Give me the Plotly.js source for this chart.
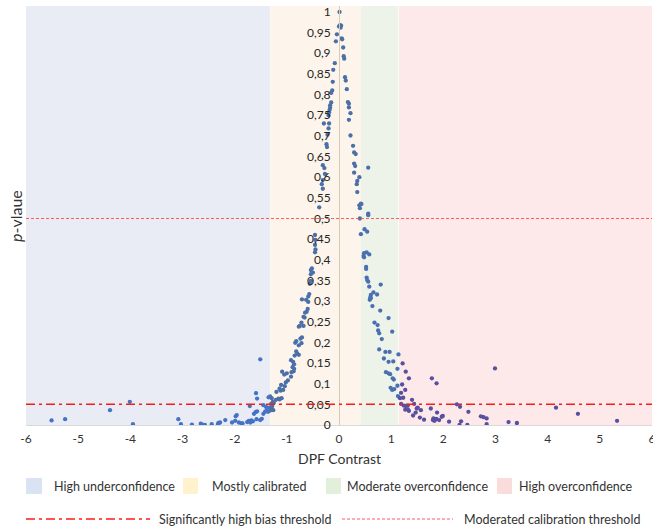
<!DOCTYPE html>
<html>
<head>
<meta charset="utf-8">
<script src="https://cdn.plot.ly/plotly-3.0.1.min.js"></script>
<style>
html,body{margin:0;padding:0;background:#fff;}
#chart{width:653px;height:527px;}
</style>
</head>
<body>
<div id="chart"></div>
<script>
// ---- data ----
const dpfContrast = [
 0.01,0.02,0.04,0.0,0.03,-0.04,0.05,0.06,-0.06,0.08,0.09,0.10,-0.08,-0.11,0.115,0.13,-0.12,0.15,-0.13,-0.15,
 0.17,0.19,0.19,-0.15,-0.17,-0.17,-0.18,-0.19,0.22,-0.2,0.19,-0.29,-0.19,-0.2,-0.22,-0.24,-0.23,0.22,0.27,0.29,
 0.32,0.29,0.31,0.56,-0.31,-0.28,0.29,0.39,0.35,0.34,-0.27,-0.31,-0.33,-0.31,0.35,-0.38,0.42,0.39,0.40,0.43,
 0.56,0.40,0.56,0.42,0.49,0.54,-0.46,-0.45,-0.46,-0.45,-0.46,0.48,0.53,0.58,0.47,0.48,0.52,0.52,-0.52,-0.54,
 -0.5,-0.54,0.53,0.54,0.56,-0.54,-0.56,0.8,0.58,0.66,0.73,0.61,0.61,0.59,0.6,0.64,-0.57,-0.59,-0.71,-0.63,
 -0.59,-0.6,-0.62,-0.65,0.79,0.95,-0.68,-0.66,-0.72,-0.75,-0.77,-0.68,
 -0.71,-0.74,-0.72,-0.82,-0.84,-0.77,-0.82,-0.8,-0.85,-0.77,-0.92,-0.88,-0.86,-0.89,-0.86,-0.91,-0.87,-1.09,-1.0,-1.05,
 -0.92,-0.98,-1.02,-1.11,-1.04,-1.07,-1.12,-1.14,-1.2,-1.1,-1.16,-1.14,-1.32,-1.29,
 -1.27,-1.25,-1.3,-1.28,-1.34,-1.26,-1.29,-1.32,-1.36,
 -1.51,-1.48,-1.45,-1.42,-1.39,-1.4,-1.45,-1.21,-1.35,
 -1.51,-3.08,-3.03,-2.82,-2.65,-2.62,-2.57,-2.44,-2.31,-2.28,-2.32,-2.18,-2.05,-1.98,-1.96,-1.99,-1.92,-1.87,-1.85,-1.76,
 -1.73,-1.68,-1.65,-1.7,-1.71,-1.59,-1.57,-1.63,-1.6,-1.57,-1.58,
 -5.51,-5.25,-4.39,-4.01,-3.95,
 0.68,0.74,1.02,0.75,0.77,0.82,0.77,0.89,0.97,0.86,0.95,1.04,1.14,0.9,0.95,0.98,1.03,1.05,1.12,1.22,
 0.99,1.02,1.06,1.12,1.28,1.34,1.21,1.27,1.19,1.13,1.17,1.23,
 1.19,1.24,1.28,1.32,1.44,1.4,1.32,1.34,1.27,1.42,1.49,1.57,1.51,1.55,1.63,1.47,
 1.78,1.87,1.81,1.87,1.97,2.11,1.76,1.8,1.83,1.86,1.92,1.99,1.88,
 2.26,2.32,2.34,2.31,2.48,2.46,2.72,2.77,2.83,2.83,2.99,3.25,3.41,4.16,4.58,5.33
];
const pValue = [
 1.0,0.968,0.967,0.965,0.962,0.946,0.936,0.934,0.929,0.914,0.893,0.887,0.876,0.86,0.842,0.834,0.831,0.813,0.81,0.804,
 0.782,0.778,0.769,0.781,0.774,0.768,0.763,0.757,0.755,0.75,0.739,0.73,0.73,0.718,0.703,0.68,0.673,0.701,0.676,0.66,
 0.656,0.633,0.627,0.623,0.629,0.622,0.611,0.6,0.591,0.583,0.608,0.593,0.583,0.572,0.564,0.527,0.536,0.532,0.525,0.535,
 0.512,0.50,0.508,0.462,0.474,0.468,0.46,0.448,0.436,0.425,0.418,0.416,0.418,0.413,0.409,0.406,0.383,0.378,0.379,0.375,
 0.369,0.365,0.357,0.351,0.347,0.349,0.342,0.34,0.335,0.321,0.316,0.315,0.307,0.303,0.309,0.288,0.317,0.311,0.304,0.303,
 0.298,0.281,0.274,0.272,0.277,0.259,0.262,0.26,0.248,0.24,0.238,0.24,
 0.212,0.209,0.198,0.203,0.199,0.193,0.178,0.173,0.168,0.17,0.157,0.153,0.147,0.14,0.136,0.128,0.13,0.129,0.125,0.122,
 0.117,0.108,0.103,0.097,0.094,0.085,0.083,0.088,0.08,0.065,0.064,0.062,0.069,0.065,
 0.056,0.054,0.051,0.046,0.042,0.036,0.04,0.035,0.032,
 0.012,0.015,0.027,0.032,0.036,0.044,0.048,0.061,0.067,
 0.159,0.014,0.002,0.001,0.003,0.001,0.0,0.002,0.005,0.006,0.002,0.012,0.006,0.021,0.024,0.01,0.006,0.004,0.004,0.007,
 0.01,0.011,0.009,0.006,0.046,0.077,0.064,0.027,0.031,0.033,0.014,
 0.011,0.014,0.036,0.056,0.002,
 0.248,0.242,0.226,0.229,0.222,0.208,0.183,0.177,0.177,0.161,0.153,0.154,0.171,0.128,0.125,0.123,0.113,0.11,0.136,0.149,
 0.09,0.085,0.087,0.095,0.129,0.113,0.098,0.085,0.078,0.07,0.065,0.066,
 0.051,0.047,0.046,0.047,0.051,0.061,0.038,0.034,0.037,0.023,0.04,0.036,0.042,0.018,0.013,0.03,
 0.113,0.101,0.016,0.014,0.02,0.008,0.04,0.012,0.01,0.015,0.012,0.022,0.03,
 0.05,0.044,0.009,0.0,0.032,0.0,0.021,0.019,0.016,0.002,0.137,0.007,0.005,0.042,0.027,0.01
];
const zoneNames = ["High underconfidence","Mostly calibrated","Moderate overconfidence","High overconfidence"];
const zoneEdges = [-6,-1.32,0.42,1.15,6];
const biasThreshold = 0.05;
const calibrationThreshold = 0.5;
const lineNames = ["Significantly high bias threshold","Moderated calibration threshold"];
const xTickVals = [-6,-5,-4,-3,-2,-1,0,1,2,3,4,5,6];
const yTickVals = [0,0.05,0.1,0.15,0.2,0.25,0.3,0.35,0.4,0.45,0.5,0.55,0.6,0.65,0.7,0.75,0.8,0.85,0.9,0.95,1];

// ---- styles ----
const bandColors = ["#e9ecf5","#fdf5eb","#eef3ea","#fee9ea"];
const swatchColors = ["#dae3f3","#fff2cc","#e2efda","#fbdcdc"];
const dotColors = ["#4472c4","#4b6fa8","#4a6fb2","#56509f"];
const FONT = "Lato, 'Open Sans', sans-serif";

function zoneOf(x){
  for(let i=0;i<4;i++){ if(x < zoneEdges[i+1]) return i; }
  return 3;
}
const markerColors = dpfContrast.map(x => dotColors[zoneOf(x)]);

const L = 26, R = 652, T = 6, B = 425;
const px2x = p => (p - L)/(R - L);
const py2y = p => (B - p)/(B - T);

const shapes = [];
for(let i=0;i<4;i++){
  shapes.push({type:'rect', xref:'x', yref:'paper', x0:zoneEdges[i], x1:zoneEdges[i+1]-(i===2?0.015:0), y0:0, y1:1,
    fillcolor:bandColors[i], line:{width:0}, layer:'below'});
}
shapes.push({type:'line', xref:'paper', yref:'y', x0:0, x1:1, y0:calibrationThreshold, y1:calibrationThreshold,
  line:{color:'#ff5b5b', width:1, dash:'3px,2px'}});
shapes.push({type:'line', xref:'paper', yref:'y', x0:0, x1:1, y0:biasThreshold, y1:biasThreshold,
  line:{color:'#ff1a1a', width:1.5, dash:'9px,4px,3px,4px'}});

// legend
const annotations = [];
const sw = [[26,42,52],[183,198,210],[326,341,345],[497,512,517]];
const LEGFONT = {family:FONT, size:12.5, color:'#333333'};
for(let i=0;i<4;i++){
  shapes.push({type:'rect', xref:'paper', yref:'paper', x0:px2x(sw[i][0]), x1:px2x(sw[i][1]), y0:py2y(494), y1:py2y(478),
    fillcolor:swatchColors[i], line:{width:0}});
  annotations.push({xref:'paper', yref:'paper', x:px2x(sw[i][2]), y:py2y(486), xanchor:'left', yanchor:'middle',
    text:zoneNames[i], showarrow:false, font:LEGFONT});
}
shapes.push({type:'line', xref:'paper', yref:'paper', x0:px2x(26), x1:px2x(150), y0:py2y(519), y1:py2y(519),
  line:{color:'#ff1a1a', width:1.5, dash:'9px,4px,3px,4px'}});
shapes.push({type:'line', xref:'paper', yref:'paper', x0:px2x(342), x1:px2x(453), y0:py2y(519), y1:py2y(519),
  line:{color:'#ff5b5b', width:1, dash:'3px,2px'}});
annotations.push({xref:'paper', yref:'paper', x:px2x(157), y:py2y(519), xanchor:'left', yanchor:'middle',
  text:lineNames[0], showarrow:false, font:LEGFONT});
annotations.push({xref:'paper', yref:'paper', x:px2x(462), y:py2y(519), xanchor:'left', yanchor:'middle',
  text:lineNames[1], showarrow:false, font:LEGFONT});
// axis titles
annotations.push({xref:'paper', yref:'paper', x:0.5, y:py2y(459), xanchor:'center', yanchor:'middle',
  text:'DPF Contrast', showarrow:false, font:{family:FONT, size:14, color:'#333333'}});
annotations.push({xref:'paper', yref:'paper', x:px2x(15), y:py2y(216), xanchor:'center', yanchor:'middle',
  text:'<i>p</i>-vlaue', textangle:-90, showarrow:false, font:{family:FONT, size:16, color:'#333333'}});

const trace = {
  type:'scatter', mode:'markers', x:dpfContrast, y:pValue,
  marker:{size:4.3, color:markerColors}, hoverinfo:'skip', showlegend:false
};

const layout = {
  width:653, height:527,
  margin:{l:L, r:653-R, t:T, b:527-B, pad:0},
  paper_bgcolor:'#ffffff', plot_bgcolor:'#ffffff',
  showlegend:false,
  separators:',.',
  font:{family:FONT, color:'#333333'},
  xaxis:{range:[-6,6], tickmode:'array', tickvals:xTickVals, ticktext:xTickVals.map(v=>String(v)),
    showgrid:false, zeroline:false, showline:true, linecolor:'#d9d9d9', linewidth:1,
    ticks:'outside', ticklen:3, tickcolor:'rgba(0,0,0,0)', ticklabeloverflow:'allow',
    tickfont:{family:FONT, size:12, color:'#333333'}},
  yaxis:{range:[0,1.0145], anchor:'free', position:0.5, tickmode:'array', tickvals:yTickVals,
    ticktext:yTickVals.map(v=>String(v).replace('.',',')),
    showgrid:false, zeroline:false, showline:true, linecolor:'#d6cbb5', linewidth:1,
    ticks:'outside', ticklen:6, tickcolor:'rgba(0,0,0,0)',
    tickfont:{family:FONT, size:12, color:'#262626'}},
  shapes:shapes, annotations:annotations
};

Plotly.newPlot('chart', [trace], layout, {displayModeBar:false, staticPlot:true});
</script>
</body>
</html>
